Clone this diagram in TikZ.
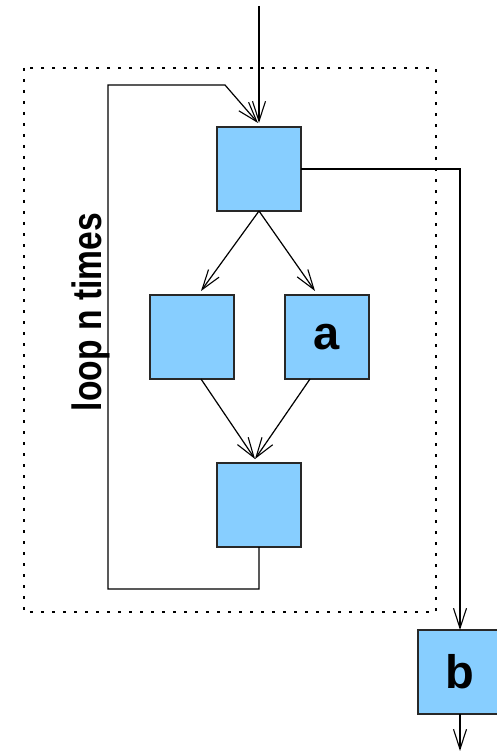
\documentclass[tikz,border=0pt]{standalone}
\usepackage{fontspec}
\setmainfont{Liberation Sans}
\usepackage{tikz}
\usetikzlibrary{arrows.meta,positioning,calc}
\usepackage{xcolor}
\definecolor{boxblue}{RGB}{135,206,255}
\definecolor{boxline}{RGB}{40,40,40}

\begin{document}
\begin{tikzpicture}[
    x=1pt, y=1pt,
    font=\bfseries\fontsize{47}{50}\selectfont,
    blk/.style={draw=boxline, fill=boxblue, line width=1.4pt, minimum size=84pt, inner sep=0pt, outer sep=0pt},
    arr/.style={-{Straight Barb[length=20pt, width=13pt, line width=1.1pt]}, line width=1.2pt},
    dotframe/.style={line width=1.6pt, dash pattern=on 2.6pt off 8.4pt},
    looplab/.style={rotate=90, xscale=0.82, font=\bfseries\fontsize{41}{44}\selectfont, inner sep=0pt}
  ]
    \useasboundingbox (0,0) rectangle (497,-751);
    \node[blk] (top) at (259,-169) {};
    \node[blk, below=84pt of top, xshift=-67pt] (lft) {};
    \node[blk, below=84pt of top, xshift=68pt] (rgt) {a};
    \node[blk, below=84pt of lft, xshift=67pt] (btm) {};
    \node[blk] (out) at (460,-672) {b};
    \coordinate (in) at (259,-6);
    \coordinate (exit) at (460,-751);
    % loop frame
    \draw[dotframe] (24,-68) rectangle (436,-612);
    \node[looplab] (lab) at (91,-312) {loop n times};
    % connectors
    \draw[arr] (in) -- ([yshift=4pt]top.north);
    \draw[arr] (top.south) -- ([xshift=9pt,yshift=4pt]lft.north);
    \draw[arr] (top.south) -- ([xshift=-12pt,yshift=4pt]rgt.north);
    \draw[arr] ([xshift=9pt]lft.south) -- ([xshift=-4pt,yshift=4pt]btm.north);
    \draw[arr] ([xshift=-17pt]rgt.south) -- ([xshift=-4pt,yshift=4pt]btm.north);
    \draw[arr] (btm.south) -- ++(0,-42) -| ($(top.north)+(-151,42)$) -- ++(117,0) -- ([xshift=-1pt,yshift=4pt]top.north);
    \draw[arr] (top.east) -| (out.north);
    \draw[arr] (out.south) -- (exit);
  \end{tikzpicture}
\end{document}
